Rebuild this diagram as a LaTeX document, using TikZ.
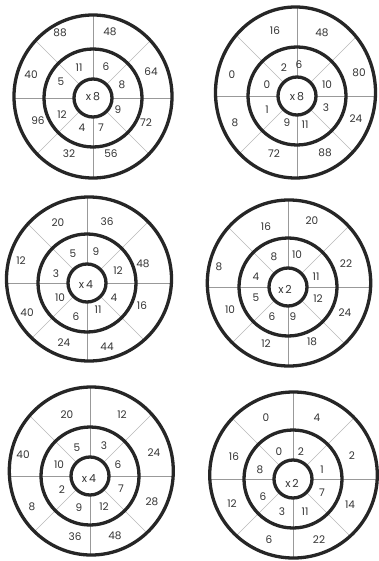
\documentclass[tikz,border=0pt]{standalone}
\usepackage{fontspec}
\setmainfont{Poppins}
\definecolor{ink}{HTML}{262626}
\definecolor{txt}{HTML}{333333}
\tikzset{
  ring/.style={draw=ink, line width=3.3pt},
  spoke/.style={draw=gray!80, line width=0.55pt},
  dspoke/.style={draw=gray!55, line width=0.5pt},
  lbl/.style={text=txt, font=\fontsize{10.5}{11}\selectfont, inner sep=0pt},
  clbl/.style={text=txt, font=\fontsize{11}{12}\selectfont, inner sep=0pt}
}
\newcommand\dartboard[6]{%
  \begin{scope}
    \clip (#3,#4) ellipse [x radius=#5pt, y radius=#6pt];
    \begin{scope}[shift={(#1,#2)}]
      \foreach \a in {0,90,180,270} \draw[spoke] (\a:19pt) -- (\a:100pt);
      \foreach \a in {45,135,225,315} \draw[dspoke] (\a:19pt) -- (\a:100pt);
    \end{scope}
  \end{scope}
  \draw[ring] (#3,#4) ellipse [x radius=#5pt, y radius=#6pt];
  \draw[ring] (#1,#2) circle [radius=49pt];
  \draw[ring] (#1,#2) circle [radius=19pt];
}
\begin{document}
\begin{tikzpicture}[x=1pt, y=-1pt]
\useasboundingbox[fill=white] (0,0) rectangle (378,561);
% board 1
\dartboard{93}{98}{93}{96.5}{79}{81.5}
\foreach \t/\x/\y [count=\k] in {88/60/33, 48/110/32, 64/151/72, 72/146/123, 56/111/154, 32/69/154, 96/38/121, 40/31/75,
  11/79/68, 6/106/67, 8/122/85, 9/118/110, 7/101/128, 4/82/128, 12/62/115, 5/61/82}
  \node[lbl] (b1-\k) at (\x,\y) {\t};
\node[clbl] (b1c) at (93,97) {x\,8};
% board 2
\dartboard{297}{96}{295.5}{92.5}{80}{85.5}
\foreach \t/\x/\y [count=\k] in {16/275/31, 48/322/33, 80/359/73, 24/356/119, 88/325/153, 72/274/154, 8/235/123, 0/232/75,
  2/284/68, 6/299/65, 10/327/85, 3/326/108, 11/305/125, 9/287/123, 1/267/110, 0/267/85}
  \node[lbl] (b2-\k) at (\x,\y) {\t};
\node[clbl] (b2c) at (297,97) {x\,8};
% board 3
\dartboard{87}{283}{89}{279}{82.5}{82}
\foreach \t/\x/\y [count=\k] in {20/58/223, 36/107/222, 48/143/264, 16/142/306, 44/107/347, 24/64/343, 40/27/313, 12/21/261,
  5/73/254, 9/96/252, 12/118/271, 4/114/298, 11/98/310, 6/76/317, 10/60/298, 3/56/274}
  \node[lbl] (b3-\k) at (\x,\y) {\t};
\node[clbl] (b3c) at (86,285) {x\,4};
% board 4
\dartboard{288}{287}{289}{283}{81.7}{83}
\foreach \t/\x/\y [count=\k] in {16/266/227, 20/312/221, 22/346/264, 24/345/313, 18/312/342, 12/266/344, 10/230/310, 8/219/267,
  8/274/257, 10/297/255, 11/316/277, 12/318/299, 9/293/317, 6/272/317, 5/256/298, 4/256/277}
  \node[lbl] (b4-\k) at (\x,\y) {\t};
\node[clbl] (b4c) at (285,289) {x\,2};
% board 5
\dartboard{90}{476}{91.3}{471}{82}{84}
\foreach \t/\x/\y [count=\k] in {20/67/415, 12/122/415, 24/154/453, 28/152/502, 48/115/536, 36/75/537, 8/32/507, 40/23/455,
  5/77/448, 3/104/446, 6/118/465, 7/121/489, 12/104/507, 9/79/508, 2/62/490, 10/59/465}
  \node[lbl] (b5-\k) at (\x,\y) {\t};
\node[clbl] (b5c) at (89,479) {x\,4};
% board 6
\dartboard{293}{479}{293.5}{475}{83.8}{83}
\foreach \t/\x/\y [count=\k] in {0/266/418, 4/317/418, 2/352/456, 14/350/505, 22/319/540, 6/269/540, 12/232/504, 16/234/457,
  0/279/452, 2/301/452, 1/322/470, 7/322/493, 11/305/512, 3/282/512, 6/263/497, 8/260/470}
  \node[lbl] (b6-\k) at (\x,\y) {\t};
\node[clbl] (b6c) at (292,483) {x\,2};
\end{tikzpicture}
\end{document}
